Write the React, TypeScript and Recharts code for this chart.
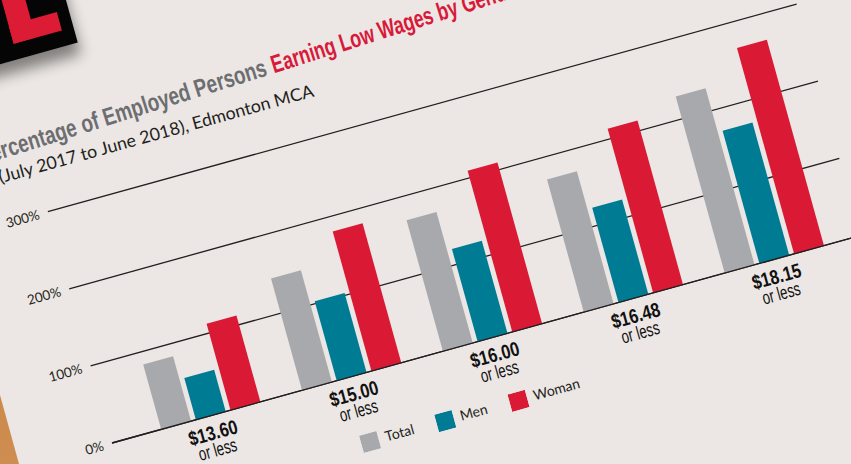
import React from 'react';
import { BarChart, Bar, XAxis, YAxis, CartesianGrid, Legend } from 'recharts';

const CATEGORIES = ['$13.60', '$15.00', '$16.00', '$16.48', '$18.15'];
const TOTAL = [84, 145, 170, 172, 229];
const MEN = [54, 103, 120, 123, 172];
const WOMAN = [112, 181, 209, 213, 267];
const Y_TICKS = [0, 100, 200, 300];
const SERIES = ['Total', 'Men', 'Woman'];
const SUBLABEL = 'or less';
const TITLE_GRAY = 'Percentage of Employed Persons';
const TITLE_RED = 'Earning Low Wages by Gender';
const SUBTITLE = '(July 2017 to June 2018), Edmonton MCA';

const data = CATEGORIES.map((c, i) => ({ cat: c, total: TOTAL[i], men: MEN[i], woman: WOMAN[i] }));

const COND = '"Liberation Sans Narrow", "Liberation Sans", Arial, sans-serif';
const LIGHT = 'Lato, "Noto Sans", sans-serif';
const PAPER = '#ece7e4';
const INK = '#231f20';

const WageTick = (props: any) => {
  const { x, y, payload } = props;
  const cx = x - 3;
  return (
    <g style={{ fontFamily: COND }}>
      <text x={cx} y={y + 24} textAnchor="middle" fill="#111" fontSize={20} fontWeight={700} textLength={50} lengthAdjust="spacingAndGlyphs">
        {payload.value}
      </text>
      <text x={cx} y={y + 41} textAnchor="middle" fill="#111" fontSize={19} fontWeight={400} textLength={39} lengthAdjust="spacingAndGlyphs">
        {SUBLABEL}
      </text>
    </g>
  );
};

export default function App() {
  return (
    <div style={{ position: 'fixed', left: 0, top: 0, width: 851, height: 464, overflow: 'hidden', background: PAPER }}>
      <div
        style={{
          position: 'absolute', left: 0, top: 0, width: 851, height: 464,
          background: 'linear-gradient(160deg, #c07a3e, #d89a5c)',
          clipPath: 'polygon(0px 395px, 19px 464px, 0px 464px)',
        }}
      />
      <div style={{ position: 'absolute', left: 112, top: 443, width: 0, height: 0, transform: 'rotate(-15.5deg)', transformOrigin: '0 0' }}>
        <div style={{ position: 'absolute', left: -126, top: -595, width: 200, height: 200, background: '#050505', boxShadow: '0 12px 14px rgba(0,0,0,0.45)' }} />
        <div style={{ position: 'absolute', left: 12, top: -600, width: 23, height: 189, background: '#dc1c35' }} />
        <div style={{ position: 'absolute', left: 12, top: -430, width: 50, height: 19, background: '#dc1c35' }} />
        <svg style={{ position: 'absolute', left: 0, top: 0, overflow: 'visible' }} width={1} height={1}>
          <g transform="rotate(-2, 254, -313)">
            <text x={-52} y={-313} fill="#6d6e71" fontFamily={COND} fontWeight={700} fontSize={25} textLength={301} lengthAdjust="spacingAndGlyphs">
              {TITLE_GRAY}
            </text>
            <text x={255} y={-313} fill="#d9193a" fontFamily={COND} fontWeight={700} fontSize={25} textLength={262} lengthAdjust="spacingAndGlyphs">
              {TITLE_RED}
            </text>
          </g>
          <text x={-38} y={-280} fill={INK} fontFamily={LIGHT} fontWeight={400} fontSize={17.5} textLength={326} lengthAdjust="spacingAndGlyphs">
            {SUBTITLE}
          </text>
        </svg>
        <div style={{ position: 'absolute', left: -50, top: -260 }}>
          <BarChart width={847} height={360} data={data} margin={{ top: 20, right: 20, left: 0, bottom: 40 }} barCategoryGap={21} barGap={5}>
            <CartesianGrid horizontal vertical={false} stroke={INK} strokeWidth={1.3} />
            <YAxis
              width={50}
              domain={[0, 300]}
              ticks={Y_TICKS}
              tickFormatter={(v: number) => `${v}%`}
              axisLine={false}
              tickLine={false}
              tickSize={0}
              tickMargin={9}
              tick={{ fill: INK, fontSize: 13.5, fontFamily: LIGHT, fontWeight: 400 }}
            />
            <XAxis
              dataKey="cat"
              height={60}
              padding={{ left: 30, right: 16 }}
              axisLine={{ stroke: INK, strokeWidth: 1.3 }}
              tickLine={false}
              tickSize={0}
              tickMargin={0}
              interval={0}
              tick={<WageTick />}
            />
            <Legend
              layout="horizontal"
              align="center"
              verticalAlign="middle"
              iconType="square"
              iconSize={18}
              itemSorter={(item: any) => SERIES.indexOf(item.value)}
              wrapperStyle={{ left: 290, top: 318, width: 'auto', textAlign: 'left', fontFamily: LIGHT, fontWeight: 400, fontSize: 14 }}
              formatter={(value: string) => <span style={{ color: INK, marginLeft: 3, marginRight: 13 }}>{value}</span>}
            />
            <Bar dataKey="total" name="Total" fill="#a7a9ac" isAnimationActive={false} />
            <Bar dataKey="men" name="Men" fill="#007b94" isAnimationActive={false} />
            <Bar dataKey="woman" name="Woman" fill="#da1a35" isAnimationActive={false} />
          </BarChart>
        </div>
      </div>
    </div>
  );
}
